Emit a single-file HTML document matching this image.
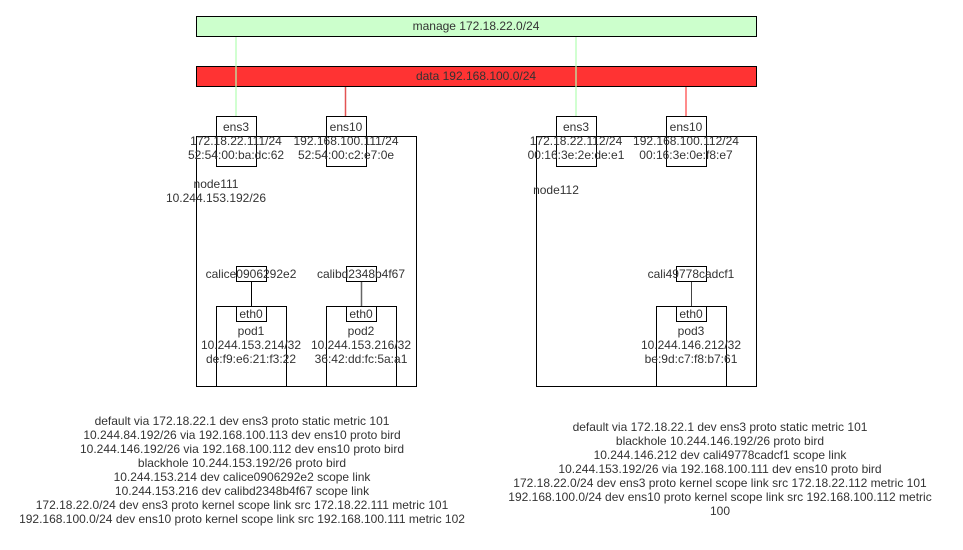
<!DOCTYPE html>
<html><head><meta charset="utf-8"><style>
body{margin:0;background:#fff;}
svg text{font-family:"Liberation Sans",Arial,sans-serif;font-size:12px;fill:#333;}
</style></head><body>
<svg width="963" height="545" viewBox="0 0 963 545" xmlns="http://www.w3.org/2000/svg">
<rect x="196.5" y="16.5" width="560" height="20" fill="#ccffcc" stroke="#000"/>
<text x="476" y="30" text-anchor="middle">manage 172.18.22.0/24</text>
<rect x="196.5" y="66.5" width="560" height="20" fill="#ff3333" stroke="#000"/>
<text x="476" y="80" text-anchor="middle">data 192.168.100.0/24</text>
<g stroke-width="1.5">
<line x1="236" y1="37" x2="236" y2="116" stroke="#b3ffb3" stroke-opacity="0.8"/>
<line x1="576" y1="37" x2="576" y2="116" stroke="#b3ffb3" stroke-opacity="0.8"/>
<line x1="345.5" y1="87" x2="345.5" y2="116" stroke="#e04040" stroke-opacity="0.9"/>
<line x1="686" y1="87" x2="686" y2="116" stroke="#ff6666"/>
</g>
<g fill="none" stroke="#000">
<rect x="196.5" y="136.5" width="220" height="250"/>
<rect x="536.5" y="136.5" width="220" height="250"/>
<rect x="216.5" y="116.5" width="40" height="50"/>
<rect x="326.5" y="116.5" width="40" height="50"/>
<rect x="556.5" y="116.5" width="40" height="50"/>
<rect x="666.5" y="116.5" width="40" height="50"/>
<rect x="236.5" y="266.5" width="30" height="15"/>
<rect x="346.5" y="266.5" width="30" height="15"/>
<rect x="676.5" y="266.5" width="30" height="15"/>
<rect x="216.5" y="306.5" width="70" height="80"/>
<rect x="326.5" y="306.5" width="70" height="80"/>
<rect x="656.5" y="306.5" width="70" height="80"/>
<rect x="236.5" y="306.5" width="30" height="15"/>
<rect x="346.5" y="306.5" width="30" height="15"/>
<rect x="676.5" y="306.5" width="30" height="15"/>
<line x1="251.5" y1="282" x2="251.5" y2="306"/>
<line x1="361.5" y1="282" x2="361.5" y2="306" stroke="#666" stroke-width="1.5"/>
<line x1="691.5" y1="282" x2="691.5" y2="306" stroke="#444"/>
</g>
<g text-anchor="middle">
<text x="236" y="131">ens3</text><text x="236" y="145">172.18.22.111/24</text><text x="236" y="159">52:54:00:ba:dc:62</text>
<text x="346" y="131">ens10</text><text x="346" y="145">192.168.100.111/24</text><text x="346" y="159">52:54:00:c2:e7:0e</text>
<text x="576" y="131">ens3</text><text x="576" y="145">172.18.22.112/24</text><text x="576" y="159">00:16:3e:2e:de:e1</text>
<text x="686" y="131">ens10</text><text x="686" y="145">192.168.100.112/24</text><text x="686" y="159">00:16:3e:0e:f8:e7</text>
<text x="216" y="188">node111</text><text x="216" y="202">10.244.153.192/26</text>
<text x="556" y="194">node112</text>
<text x="251" y="278">calice0906292e2</text>
<text x="361" y="278">calibd2348b4f67</text>
<text x="691" y="278">cali49778cadcf1</text>
<text x="251" y="318">eth0</text><text x="361" y="318">eth0</text><text x="691" y="318">eth0</text>
<text x="251" y="335">pod1</text><text x="251" y="349">10.244.153.214/32</text><text x="251" y="363">de:f9:e6:21:f3:22</text>
<text x="361" y="335">pod2</text><text x="361" y="349">10.244.153.216/32</text><text x="361" y="363">36:42:dd:fc:5a:a1</text>
<text x="691" y="335">pod3</text><text x="691" y="349">10.244.146.212/32</text><text x="691" y="363">be:9d:c7:f8:b7:61</text>
<text x="242" y="425">default via 172.18.22.1 dev ens3 proto static metric 101</text>
<text x="242" y="439">10.244.84.192/26 via 192.168.100.113 dev ens10 proto bird</text>
<text x="242" y="453">10.244.146.192/26 via 192.168.100.112 dev ens10 proto bird</text>
<text x="242" y="467">blackhole 10.244.153.192/26 proto bird</text>
<text x="242" y="481">10.244.153.214 dev calice0906292e2 scope link</text>
<text x="242" y="495">10.244.153.216 dev calibd2348b4f67 scope link</text>
<text x="242" y="509">172.18.22.0/24 dev ens3 proto kernel scope link src 172.18.22.111 metric 101</text>
<text x="242" y="523">192.168.100.0/24 dev ens10 proto kernel scope link src 192.168.100.111 metric 102</text>
<text x="720" y="431">default via 172.18.22.1 dev ens3 proto static metric 101</text>
<text x="720" y="445">blackhole 10.244.146.192/26 proto bird</text>
<text x="720" y="459">10.244.146.212 dev cali49778cadcf1 scope link</text>
<text x="720" y="473">10.244.153.192/26 via 192.168.100.111 dev ens10 proto bird</text>
<text x="720" y="487">172.18.22.0/24 dev ens3 proto kernel scope link src 172.18.22.112 metric 101</text>
<text x="720" y="501">192.168.100.0/24 dev ens10 proto kernel scope link src 192.168.100.112 metric</text>
<text x="720" y="515">100</text>
</g>
</svg>
</body></html>
